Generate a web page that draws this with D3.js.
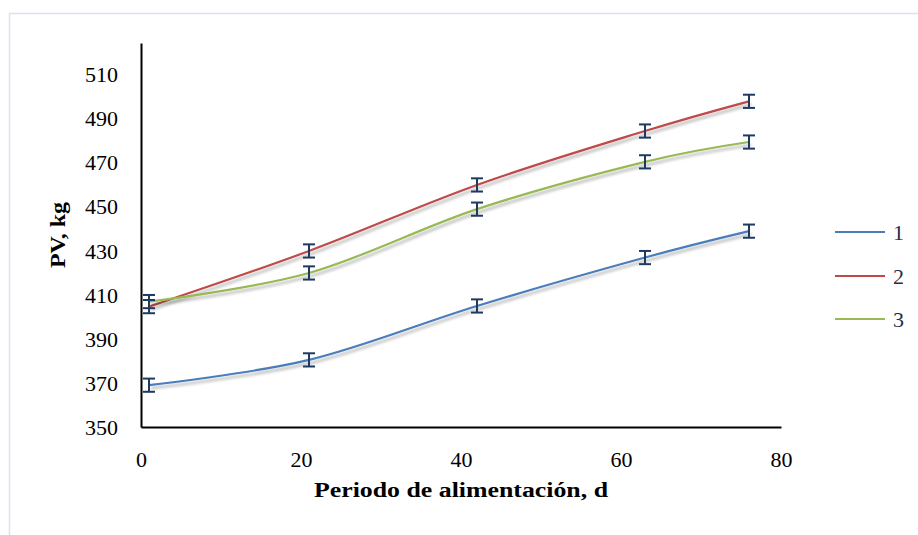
<!DOCTYPE html>
<html><head><meta charset="utf-8">
<script src="https://cdn.jsdelivr.net/npm/d3@7"></script>
<style>body{margin:0;background:#fff}svg{display:block}</style>
</head><body><svg id="c" width="918" height="535"></svg>
<script>
const days = [1, 21, 42, 63, 76];
const series1 = [369, 380.5, 405, 427, 439];
const series2 = [404.7, 430, 460, 484.5, 498];
const series3 = [407, 420, 449, 470.5, 479.5];
const errors = [3, 3, 3, 3, 3];
const seriesNames = ["1", "2", "3"];
const seriesColors = ["#4A7EBB", "#BE4B48", "#98B954"];
const xTicks = [0, 20, 40, 60, 80];
const yTicks = [350, 370, 390, 410, 430, 450, 470, 490, 510];

const svg = d3.select("#c");
const font = "'Liberation Serif', 'DejaVu Serif', serif";
const x = d3.scaleLinear().domain([0, 80]).range([141, 781]);
const y = d3.scaleLinear().domain([350, 524.5]).range([427, 43]);

// outer border (only top & left visible)
svg.append("rect").attr("x", 9.5).attr("y", 13.5).attr("width", 1000).attr("height", 1000)
  .attr("fill", "none").attr("stroke", "#D9E3F0").attr("stroke-width", 1.5);

const defs = svg.append("defs");
const f = defs.append("filter").attr("id", "sh").attr("x", "-10%").attr("y", "-50%").attr("width", "120%").attr("height", "200%");
f.append("feGaussianBlur").attr("in", "SourceAlpha").attr("stdDeviation", 1.6).attr("result", "b");
f.append("feOffset").attr("in", "b").attr("dx", 2).attr("dy", 3).attr("result", "o");
f.append("feComponentTransfer").attr("in", "o").attr("result", "t")
  .append("feFuncA").attr("type", "linear").attr("slope", 0.3);
const m = f.append("feMerge");
m.append("feMergeNode").attr("in", "t");
m.append("feMergeNode").attr("in", "SourceGraphic");

// axes
const yAxis = d3.axisLeft(y).tickValues(yTicks).tickSize(0).tickPadding(23);
const gy = svg.append("g").attr("transform", `translate(${x(0)},0)`).call(yAxis);
gy.select(".domain").attr("stroke", "#000").attr("stroke-width", 2);
gy.selectAll("text").attr("font-family", font).attr("font-size", 22).attr("fill", "#000");

const xAxis = d3.axisBottom(x).tickValues(xTicks).tickSize(0).tickPadding(24);
const gx = svg.append("g").attr("transform", `translate(0,${y(350)})`).call(xAxis);
gx.select(".domain").attr("stroke", "#000").attr("stroke-width", 2);
gx.selectAll("text").attr("font-family", font).attr("font-size", 22).attr("fill", "#000");

// axis titles
svg.append("text").attr("x", 461).attr("y", 497).attr("text-anchor", "middle")
  .attr("font-family", font).attr("font-weight", "bold").attr("font-size", 20)
  .attr("textLength", 294).attr("lengthAdjust", "spacingAndGlyphs")
  .text("Periodo de alimentación, d");
svg.append("text").attr("transform", "translate(65,235) rotate(-90)").attr("text-anchor", "middle")
  .attr("font-family", font).attr("font-weight", "bold").attr("font-size", 21)
  .attr("textLength", 66).attr("lengthAdjust", "spacingAndGlyphs")
  .text("PV, kg");

const allSeries = [series1, series2, series3];
const line = d3.line().x((d, i) => x(days[i])).y(d => y(d)).curve(d3.curveCatmullRom.alpha(0));

allSeries.forEach((s, k) => {
  svg.append("path").datum(s).attr("d", line).attr("fill", "none")
    .attr("stroke", seriesColors[k]).attr("stroke-width", 2.2).attr("filter", "url(#sh)");
});

// error bars
const errColor = "#1F3A60";
allSeries.forEach((s) => {
  const g = svg.append("g").attr("stroke", errColor).attr("stroke-width", 2);
  s.forEach((v, i) => {
    const cx = x(days[i]);
    const y1 = y(v + errors[i]), y2 = y(v - errors[i]);
    g.append("line").attr("x1", cx).attr("x2", cx).attr("y1", y1).attr("y2", y2);
    g.append("line").attr("x1", cx - 6).attr("x2", cx + 6).attr("y1", y1).attr("y2", y1);
    g.append("line").attr("x1", cx - 6).attr("x2", cx + 6).attr("y1", y2).attr("y2", y2);
  });
});

// legend
const legY = [232, 276, 319];
seriesNames.forEach((n, k) => {
  svg.append("line").attr("x1", 835).attr("x2", 885).attr("y1", legY[k]).attr("y2", legY[k])
    .attr("stroke", seriesColors[k]).attr("stroke-width", 2.2);
  svg.append("text").attr("x", 893).attr("y", legY[k] + 8).attr("font-family", font)
    .attr("font-size", 22).attr("fill", "#1F2F4F").text(n);
});
</script></body></html>
